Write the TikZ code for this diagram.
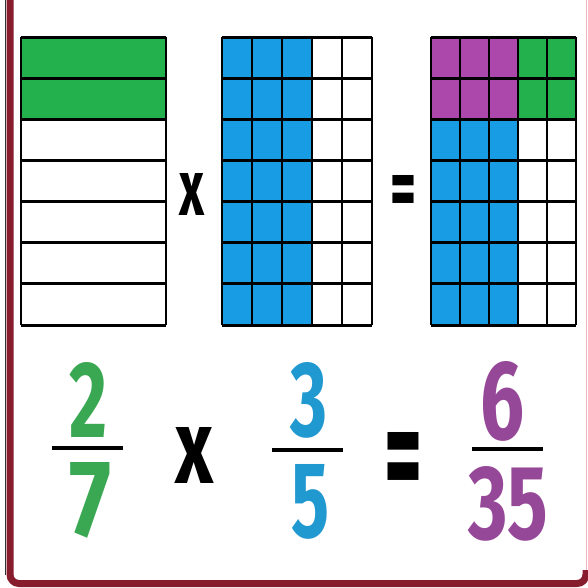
\documentclass[tikz,border=0pt]{standalone}
\usepackage{fontspec}
\usepackage{graphicx}
\setmainfont{Fira Sans}
\definecolor{gfill}{RGB}{34,177,76}
\definecolor{bfill}{RGB}{24,156,228}
\definecolor{pfill}{RGB}{172,72,172}
\definecolor{gtxt}{RGB}{58,168,82}
\definecolor{btxt}{RGB}{32,152,208}
\definecolor{ptxt}{RGB}{150,72,152}
\definecolor{framecol}{RGB}{135,28,45}
\definecolor{framepale}{RGB}{235,180,190}
\newcommand{\gl}[3]{\resizebox{#1pt}{#2pt}{\bfseries #3}}
\begin{document}
\begin{tikzpicture}[x=1pt,y=-1pt,
  gridline/.style={line width=3pt,black},
  vline/.style={line width=2.2pt,black},
  fracbar/.style={line width=4pt,black},
  glyphnode/.style={inner sep=0pt,outer sep=0pt,anchor=center}]
\useasboundingbox (0,0) rectangle (588,587);
\fill[white] (0,0) rectangle (588,587);
% frame
\draw[framepale,line width=1.5pt] (586.5,0) -- (586.5,570);
\draw[framecol,line width=7pt,rounded corners=9pt] (10,-10) -- (10,583.5) -- (586,583.5) -- (586,570);
\draw[black!80,line width=1.5pt] (5.5,0) -- (5.5,575);
% left grid: 7 rows, 2 green
\pgfmathsetmacro{\h}{288/7}
\fill[gfill] (21,37) rectangle (166,{37+2*\h});
\foreach \i in {0,...,7} \draw[gridline] (21,{37+\i*\h}) -- (166,{37+\i*\h});
\draw[vline] (21,37) -- (21,325);
\draw[vline] (166,37) -- (166,325);
% middle grid: 7x5, 3 columns blue
\fill[bfill] (222,37) rectangle (312,325);
\foreach \i in {0,...,7} \draw[gridline] (222,{37+\i*\h}) -- (372,{37+\i*\h});
\foreach \j in {0,...,5} \draw[vline] ({222+30*\j},37) -- ({222+30*\j},325);
% right grid
\fill[pfill] (431,37) rectangle (518,{37+2*\h});
\fill[gfill] (518,37) rectangle (576,{37+2*\h});
\fill[bfill] (431,{37+2*\h}) rectangle (518,325);
\foreach \i in {0,...,7} \draw[gridline] (431,{37+\i*\h}) -- (576,{37+\i*\h});
\foreach \j in {0,...,5} \draw[vline] ({431+29*\j},37) -- ({431+29*\j},325);
% operators in the top row
\node[glyphnode] (tx) at (191.5,194) {\gl{25}{42}{x}};
\node[glyphnode] (teq) at (403.5,196) {\gl{26}{42}{=}};
% fractions
\node[glyphnode,text=gtxt] (n2) at (88.5,399.5) {\gl{38}{75}{2}};
\coordinate (b1l) at (52,448); \coordinate (b1r) at (123,448);
\draw[fracbar] (b1l) -- (b1r);
\node[glyphnode,text=gtxt] (n7) at (91,500) {\gl{42}{74}{7}};
\node[glyphnode] (bx) at (195,455) {\gl{38}{56}{x}};
\node[glyphnode,text=btxt] (n3) at (309,400) {\gl{37}{74}{3}};
\coordinate (b2l) at (272,450); \coordinate (b2r) at (343,450);
\draw[fracbar] (b2l) -- (b2r);
\node[glyphnode,text=btxt] (n5) at (310,501.5) {\gl{38}{73}{5}};
\node[glyphnode] (beq) at (404,468) {\gl{38}{72}{=}};
\node[glyphnode,text=ptxt] (n6) at (503,401) {\gl{44}{78}{6}};
\coordinate (b3l) at (472,449); \coordinate (b3r) at (543,449);
\draw[fracbar] (b3l) -- (b3r);
\node[glyphnode,text=ptxt] (n35) at (508.5,503.5) {\gl{80}{73}{35}};
\end{tikzpicture}
\end{document}
